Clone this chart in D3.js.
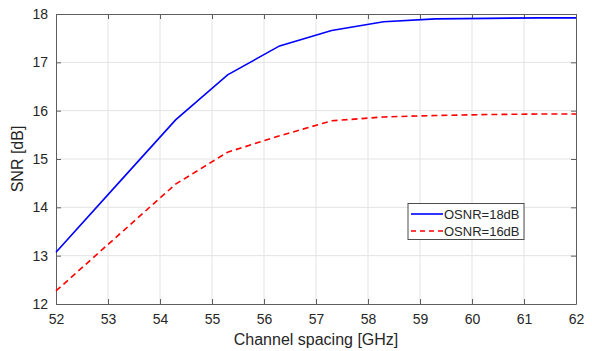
<!DOCTYPE html>
<html>
<head>
<meta charset="utf-8">
<script src="https://cdn.jsdelivr.net/npm/d3@7"></script>
<style>
	body { margin: 0; background: #fff; }
	svg text { font-family: "Liberation Sans", Arial, sans-serif; fill: #262626; }
</style>
</head>
<body>
<svg id="chart" width="592" height="351"></svg>
<script>
'use strict';

var spacing = [52, 53.3, 54.3, 55.3, 56.3, 57.3, 58.3, 59.3, 60.3, 61.3, 62];
var snr18 = [13.07, 14.62, 15.81, 16.74, 17.34, 17.66, 17.84, 17.90, 17.91, 17.92, 17.92];
var snr16 = [12.27, 13.52, 14.48, 15.14, 15.48, 15.79, 15.87, 15.90, 15.92, 15.93, 15.93];

var xTicks = [52, 53, 54, 55, 56, 57, 58, 59, 60, 61, 62];
var yTicks = [12, 13, 14, 15, 16, 17, 18];

var seriesNames = ["OSNR=18dB", "OSNR=16dB"];

var LEFT = 56, RIGHT = 576, TOP = 14, BOTTOM = 304;
var AXIS_COLOR = "#5e5e5e";

var svg = d3.select("#chart");

var x = d3.scaleLinear().domain([52, 62]).range([LEFT, RIGHT]);
var y = d3.scaleLinear().domain([12, 18]).range([BOTTOM, TOP]);

// grid
svg.append("g")
	.selectAll("line")
	.data(xTicks.slice(1, -1))
	.enter().append("line")
	.attr("x1", function (d) { return x(d); })
	.attr("x2", function (d) { return x(d); })
	.attr("y1", TOP)
	.attr("y2", BOTTOM)
	.style("stroke", "#e3e3e3")
	.style("stroke-width", 1);

svg.append("g")
	.selectAll("line")
	.data(yTicks.slice(1, -1))
	.enter().append("line")
	.attr("x1", LEFT)
	.attr("x2", RIGHT)
	.attr("y1", function (d) { return y(d); })
	.attr("y2", function (d) { return y(d); })
	.style("stroke", "#e3e3e3")
	.style("stroke-width", 1);

// axes, MATLAB style: ticks inward, box all round
var xAxis = svg.append("g")
	.attr("transform", "translate(0," + BOTTOM + ")")
	.call(d3.axisBottom(x).tickValues(xTicks).tickFormat(d3.format("d"))
		.tickSizeInner(-5).tickSizeOuter(0).tickPadding(10));

var xAxisTop = svg.append("g")
	.attr("transform", "translate(0," + TOP + ")")
	.call(d3.axisTop(x).tickValues(xTicks).tickSizeInner(-5).tickSizeOuter(0).tickFormat(""));

var yAxis = svg.append("g")
	.attr("transform", "translate(" + LEFT + ",0)")
	.call(d3.axisLeft(y).tickValues(yTicks).tickFormat(d3.format("d"))
		.tickSizeInner(-5).tickSizeOuter(0).tickPadding(8));

var yAxisRight = svg.append("g")
	.attr("transform", "translate(" + RIGHT + ",0)")
	.call(d3.axisRight(y).tickValues(yTicks).tickSizeInner(-5).tickSizeOuter(0).tickFormat(""));

[xAxis, xAxisTop, yAxis, yAxisRight].forEach(function (g) {
	g.selectAll("path, line").style("stroke", AXIS_COLOR);
	g.selectAll("text")
		.style("font-size", "14px")
		.style("fill", "#262626");
});

// lines
var lineGen = d3.line()
	.x(function (d, i) { return x(spacing[i]); })
	.y(function (d) { return y(d); });

svg.append("path")
	.datum(snr18)
	.attr("d", lineGen)
	.style("fill", "none")
	.style("stroke", "#0000ff")
	.style("stroke-width", 1.6);

svg.append("path")
	.datum(snr16)
	.attr("d", lineGen)
	.style("fill", "none")
	.style("stroke", "#ff0000")
	.style("stroke-width", 1.6)
	.style("stroke-dasharray", "6,4");

// axis labels
svg.append("text")
	.attr("x", (LEFT + RIGHT) / 2)
	.attr("y", 345)
	.attr("text-anchor", "middle")
	.style("font-size", "16px")
	.text("Channel spacing [GHz]");

svg.append("text")
	.attr("transform", "translate(23," + ((TOP + BOTTOM) / 2) + ") rotate(-90)")
	.attr("text-anchor", "middle")
	.style("font-size", "16px")
	.text("SNR [dB]");

// legend
var legend = svg.append("g");

legend.append("rect")
	.attr("x", 408)
	.attr("y", 203.5)
	.attr("width", 116)
	.attr("height", 36)
	.style("fill", "#fff")
	.style("stroke", "#4d4d4d")
	.style("stroke-width", 1);

var legendStyles = [
	{ color: "#0000ff", dash: null },
	{ color: "#ff0000", dash: "5,4" }
];

seriesNames.forEach(function (name, i) {
	var ly = 214 + i * 17;
	legend.append("line")
		.attr("x1", 411)
		.attr("x2", 443)
		.attr("y1", ly)
		.attr("y2", ly)
		.style("stroke", legendStyles[i].color)
		.style("stroke-width", 1.6)
		.style("stroke-dasharray", legendStyles[i].dash);
	legend.append("text")
		.attr("x", 444)
		.attr("y", ly + 4.5)
		.style("font-size", "13px")
		.text(name);
});
</script>
</body>
</html>
